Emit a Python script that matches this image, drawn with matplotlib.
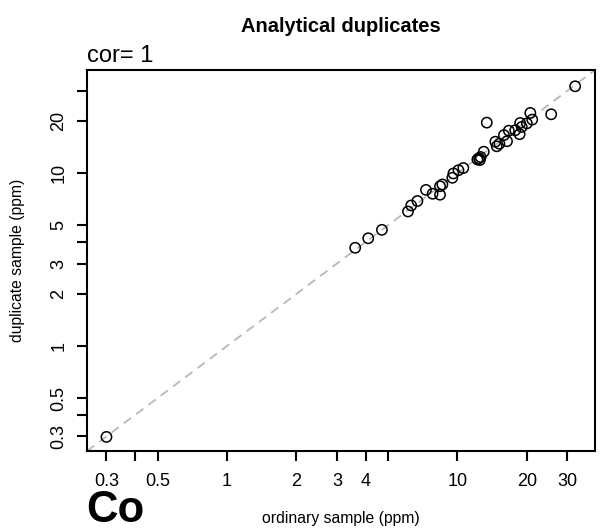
import matplotlib
matplotlib.use("Agg")
import matplotlib.pyplot as plt
from matplotlib.ticker import FixedLocator, NullLocator

plt.rcParams['font.family'] = ['Liberation Sans', 'DejaVu Sans']

ordinary = [0.30, 3.6, 4.1, 4.7, 6.1, 6.3, 6.7, 7.3, 7.8, 8.4, 8.4, 8.6, 9.5, 9.6, 10.1, 10.6,
            12.2, 12.5, 12.6, 12.4, 13.0, 13.4, 14.6, 14.8, 15.2, 15.9, 16.4, 16.7, 17.8, 18.6,
            19.0, 18.7, 20.0, 21.1, 20.7, 25.5, 32.4]
duplicate = [0.298, 3.7, 4.2, 4.7, 6.0, 6.5, 6.9, 8.0, 7.6, 7.5, 8.4, 8.6, 9.4, 9.96, 10.4, 10.7,
             12.0, 11.9, 12.4, 12.2, 13.3, 19.6, 15.2, 14.3, 14.8, 16.6, 15.3, 17.6, 17.7, 16.8,
             18.5, 19.5, 19.4, 20.4, 22.3, 21.9, 31.8]

x_ticks = [0.3, 0.4, 0.5, 1, 2, 3, 4, 5, 10, 20, 30]
x_labels = ["0.3", "", "0.5", "1", "2", "3", "4", "", "10", "20", "30"]
y_ticks = [0.3, 0.4, 0.5, 1, 2, 3, 4, 5, 10, 20, 30]
y_labels = ["0.3", "", "0.5", "1", "2", "3", "", "5", "10", "20", ""]

W, H = 606, 529
fig = plt.figure(figsize=(W / 100, H / 100), dpi=100)
ax = fig.add_axes([87 / W, 1 - 451 / H, (595 - 87) / W, (451 - 70) / H])

lims = (0.247, 39.5)
ax.plot(lims, lims, linestyle=(0, (5, 3.5)), color='#b8b8b8', linewidth=1.3, zorder=1)
ax.scatter(ordinary, duplicate, s=55, facecolors='none', edgecolors='black', linewidths=1.1, zorder=2)

ax.set_xscale('log')
ax.set_yscale('log')
ax.set_xlim(*lims)
ax.set_ylim(*lims)

ax.xaxis.set_major_locator(FixedLocator(x_ticks))
ax.xaxis.set_minor_locator(NullLocator())
ax.set_xticklabels(x_labels)
ax.yaxis.set_major_locator(FixedLocator(y_ticks))
ax.yaxis.set_minor_locator(NullLocator())
ax.set_yticklabels(y_labels, rotation=90, va='center')

ax.tick_params(axis='x', pad=9)
ax.tick_params(axis='y', pad=7)
ax.tick_params(axis='both', direction='out', length=7, width=1.5, labelsize=13, colors='black')
for sp in ax.spines.values():
    sp.set_linewidth(1.5)

ax.set_xlabel("ordinary sample (ppm)", fontsize=11.3, va='center')
ax.xaxis.set_label_coords(0.5, (451 - 518) / 381)
ax.set_ylabel("duplicate sample (ppm)", fontsize=11.3, va='center')
ax.yaxis.set_label_coords((18 - 87) / 508, 0.5)

fig.text(341 / W, 1 - 27 / H, "Analytical duplicates", ha='center', va='center',
         fontsize=14.5, fontweight='bold')
fig.text(87 / W, 1 - 56 / H, "cor= 1", ha='left', va='center', fontsize=17)
fig.text(86 / W, 1 - 510 / H, "Co", ha='left', va='center', fontsize=31.5, fontweight='bold')

fig.savefig("out.png", dpi=100)
